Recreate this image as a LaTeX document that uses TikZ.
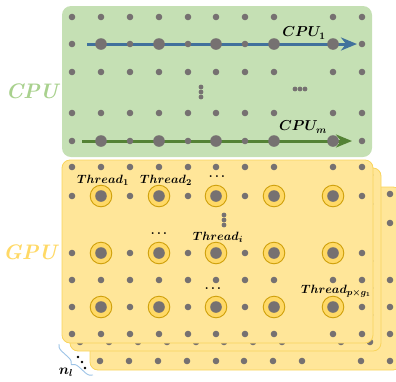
\documentclass[tikz,border=0pt]{standalone}
\usepackage{bm}
\usetikzlibrary{arrows.meta,decorations.pathreplacing}
\definecolor{cpufill}{HTML}{C5E0B4}
\definecolor{gpufill}{HTML}{FFE699}
\definecolor{gpuedge}{HTML}{F9D45C}
\definecolor{dotgrey}{HTML}{767171}
\definecolor{ringfill}{HTML}{FFD966}
\definecolor{ringedge}{HTML}{CFA00A}
\definecolor{cpublue}{HTML}{41719C}
\definecolor{cpugreen}{HTML}{548235}
\definecolor{cpulabel}{HTML}{A9D18E}
\definecolor{gpulabel}{HTML}{FFD966}
\definecolor{bracecol}{HTML}{9DC3E6}
\tikzset{
  cpupanel/.style={fill=cpufill, rounded corners=9pt},
  gpupanel/.style={fill=gpufill, draw=gpuedge, line width=0.8pt, rounded corners=8pt},
  smalldot/.style={fill=dotgrey},
  lbl/.style={inner sep=0pt, font=\fontsize{13}{15}\selectfont},
  cpulbl/.style={inner sep=0pt, font=\fontsize{14}{16}\selectfont},
  biglbl/.style={inner sep=0pt, font=\fontsize{21}{24}\selectfont\bfseries\itshape},
  cpuarrow/.style={line width=3pt, -{Stealth[length=16pt,width=13pt,inset=5pt]}},
}
\newcommand{\gridrows}[1]{%
  \foreach \yy in {#1}{
    \foreach \xx in {72,101,130,159,188,216,245,274,333,362}{
      \fill[smalldot] (\xx,\yy) circle (3.3);
    }
  }%
}
\begin{document}
\begin{tikzpicture}[x=1pt,y=-1pt]
\useasboundingbox (0,0) rectangle (396,381);
\clip (0,0) rectangle (396,381);

% ---------- CPU panel ----------
\path[cpupanel] (62,6) rectangle (372,157);
\gridrows{17,72,113}
\coordinate (b0) at (87,44);
\coordinate (b1) at (357,44);
\coordinate (g0) at (82,141);
\coordinate (g1) at (352,141);
\draw[cpuarrow, cpublue] (b0) -- (b1);
\draw[cpuarrow, cpugreen] (g0) -- (g1);
\foreach \yy in {44,141}{
  \foreach \xx in {72,130,188,245,362}{\fill[smalldot] (\xx,\yy) circle (3.3);}
  \foreach \xx in {101,159,216,274,333}{\fill[smalldot] (\xx,\yy) circle (5.8);}
}
% ellipses
\foreach \yy in {87,92,97}{\fill[smalldot] (201,\yy) circle (2.4);}
\foreach \xx in {295,300,305}{\fill[smalldot] (\xx,89) circle (2.4);}
\node[cpulbl] (cpu1) at (304,33) {$\bm{CPU_1}$};
\node[cpulbl] (cpum) at (303,127) {$\bm{CPU_m}$};
\node[biglbl, text=cpulabel] (cpulab) at (32,91) {CPU};

% ---------- GPU panels ----------
\begin{scope}[shift={(28,27)}]
  \path[gpupanel] (62,160) rectangle (373,343);
  \gridrows{167,196,253,280,307,334}
\end{scope}
\begin{scope}[shift={(8,8)}]
  \path[gpupanel] (62,160) rectangle (373,343);
  \gridrows{167,196,253,280,307,334}
\end{scope}
\path[gpupanel] (62,160) rectangle (373,343);
\gridrows{167,280,334}
\foreach \yy in {196,253,307}{
  \foreach \xx in {72,130,188,245,362}{\fill[smalldot] (\xx,\yy) circle (3.3);}
  \foreach \xx in {101,159,216,274,333}{
    \filldraw[fill=ringfill, draw=ringedge, line width=0.9pt] (\xx,\yy) circle (10.8);
    \fill[smalldot] (\xx,\yy) circle (5.8);
  }
}
\foreach \yy in {215,220,225}{\fill[smalldot] (224,\yy) circle (2.4);}

\node[lbl] (t1) at (103,180) {$\bm{Thread_1}$};
\node[lbl] (t2) at (166,180) {$\bm{Thread_2}$};
\node[lbl] (d1) at (217,177) {$\bm{\ldots}$};
\node[lbl] (d2) at (159,234) {$\bm{\ldots}$};
\node[lbl] (ti) at (218,237) {$\bm{Thread_i}$};
\node[lbl] (d3) at (213,289) {$\bm{\ldots}$};
\node[lbl] (tp) at (336,291) {$\bm{Thread_{p\times g_1}}$};
\node[biglbl, text=gpulabel] (gpulab) at (30,252) {GPU};

% ---------- n_l ----------
\foreach \p in {(78,357),(82,362),(85,368)}{\fill[black] \p circle (1.4);}
\coordinate (br0) at (93,375);
\coordinate (br1) at (59,344);
\draw[bracecol, line width=0.9pt, decorate, decoration={brace, amplitude=7pt}] (br0) -- (br1);
\node[cpulbl] (nl) at (66,372) {$\bm{n_l}$};
\end{tikzpicture}
\end{document}
